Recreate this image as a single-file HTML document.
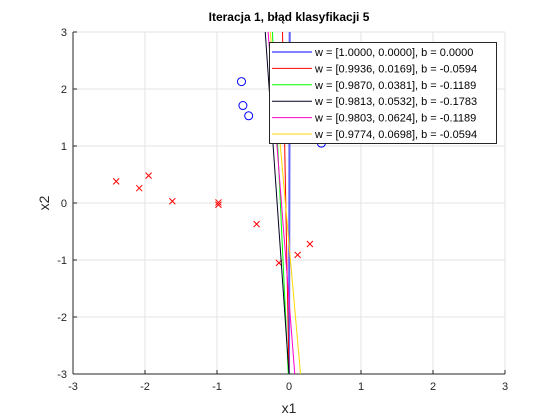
<!DOCTYPE html>
<html><head><meta charset="utf-8"><style>
body{margin:0;background:#fff;}
svg{display:block;font-family:"Liberation Sans",sans-serif;}
</style></head><body>
<svg id="chart" width="560" height="420">
<rect x="0" y="0" width="560" height="420" fill="#fff"/>
<g id="grid"></g>
<g id="axes"></g>
<g id="plot"></g>
<text x="289" y="21" text-anchor="middle" font-size="12" font-weight="bold" fill="#000">Iteracja 1, błąd klasyfikacji 5</text>
<text x="289" y="413" text-anchor="middle" font-size="14" fill="#262626">x1</text>
<text x="49" y="203" text-anchor="middle" font-size="14" fill="#262626" transform="rotate(-90 49 203)">x2</text>
<g id="legend"></g>
</svg>
<script>
const xTicks=[-3,-2,-1,0,1,2,3];
const yTicks=[-3,-2,-1,0,1,2,3];
const circX=[-0.66,-0.64,-0.56,0.45];
const circY=[2.13,1.71,1.53,1.05];
const crossX=[-2.4,-2.08,-1.95,-1.62,-0.98,-0.98,-0.45,-0.14,0.12,0.29];
const crossY=[0.38,0.26,0.48,0.03,0.01,-0.03,-0.37,-1.05,-0.91,-0.72];
const lineTopX=[0.01,-0.09,-0.23,-0.33,-0.29,-0.26];
const lineBotX=[0.0,0.0,-0.01,0.0,0.08,0.16];
const lineColors=["#0000ff","#ff0000","#00ff00","#000022","#ff00cc","#ffd700"];
const legendLabels=["w = [1.0000, 0.0000], b = 0.0000","w = [0.9936, 0.0169], b = -0.0594","w = [0.9870, 0.0381], b = -0.1189","w = [0.9813, 0.0532], b = -0.1783","w = [0.9803, 0.0624], b = -0.1189","w = [0.9774, 0.0698], b = -0.0594"];
const NS="http://www.w3.org/2000/svg";
const L=73,R=505,T=32,B=374;
const sx=v=>L+(v+3)/6*(R-L);
const sy=v=>B-(v+3)/6*(B-T);
function mk(tag,attrs,parent){const e=document.createElementNS(NS,tag);for(const k in attrs)e.setAttribute(k,attrs[k]);parent.appendChild(e);return e;}
const grid=document.getElementById('grid'),axes=document.getElementById('axes'),plot=document.getElementById('plot'),leg=document.getElementById('legend');
mk('rect',{x:L,y:T,width:R-L,height:B-T,fill:'#fff'},grid);
xTicks.forEach(t=>{const g=mk('line',{x1:sx(t),x2:sx(t),y1:T,y2:B,stroke:'#e3e3e3'},grid);

const tx=mk('text',{x:sx(t),y:B+16,'text-anchor':'middle','font-size':11,fill:'#262626'},axes);tx.textContent=t;

mk('line',{x1:sx(t),x2:sx(t),y1:B,y2:B-4,stroke:'#262626'},axes);});
yTicks.forEach(t=>{const g=mk('line',{x1:L,x2:R,y1:sy(t),y2:sy(t),stroke:'#e3e3e3'},grid);

const tx=mk('text',{x:L-6,y:sy(t)+4,'text-anchor':'end','font-size':11,fill:'#262626'},axes);tx.textContent=t;

mk('line',{x1:L,x2:L+4,y1:sy(t),y2:sy(t),stroke:'#262626'},axes);});
mk('line',{x1:L,x2:R,y1:B,y2:B,stroke:'#262626'},axes);
mk('line',{x1:L,x2:L,y1:T,y2:B,stroke:'#262626'},axes);
crossX.forEach((x,i)=>{const cx=sx(x),cy=sy(crossY[i]),d=3;
const p=mk('path',{d:`M${cx-d} ${cy-d}L${cx+d} ${cy+d}M${cx-d} ${cy+d}L${cx+d} ${cy-d}`,stroke:'#ff0000','stroke-width':1},plot);
});
circX.forEach((x,i)=>{const c=mk('circle',{cx:sx(x),cy:sy(circY[i]),r:4,fill:'none',stroke:'#0000ff','stroke-width':1},plot);
});
lineTopX.forEach((x,i)=>{const l=mk('line',{x1:sx(x),y1:T,x2:sx(lineBotX[i]),y2:B,stroke:lineColors[i],'stroke-width':i==0?2:1,'stroke-opacity':i==0?0.6:1},plot);
});
const lb=mk('rect',{x:269.5,y:42.5,width:227,height:101,fill:'#fff',stroke:'#262626'},leg);

legendLabels.forEach((s,i)=>{const y=52+i*16.4;
const l=mk('line',{x1:272,x2:312,y1:y,y2:y,stroke:lineColors[i]},leg);

const t=mk('text',{x:315,y:y+4,'font-size':11,fill:'#000'},leg);t.textContent=s;
});
</script>
</body></html>
